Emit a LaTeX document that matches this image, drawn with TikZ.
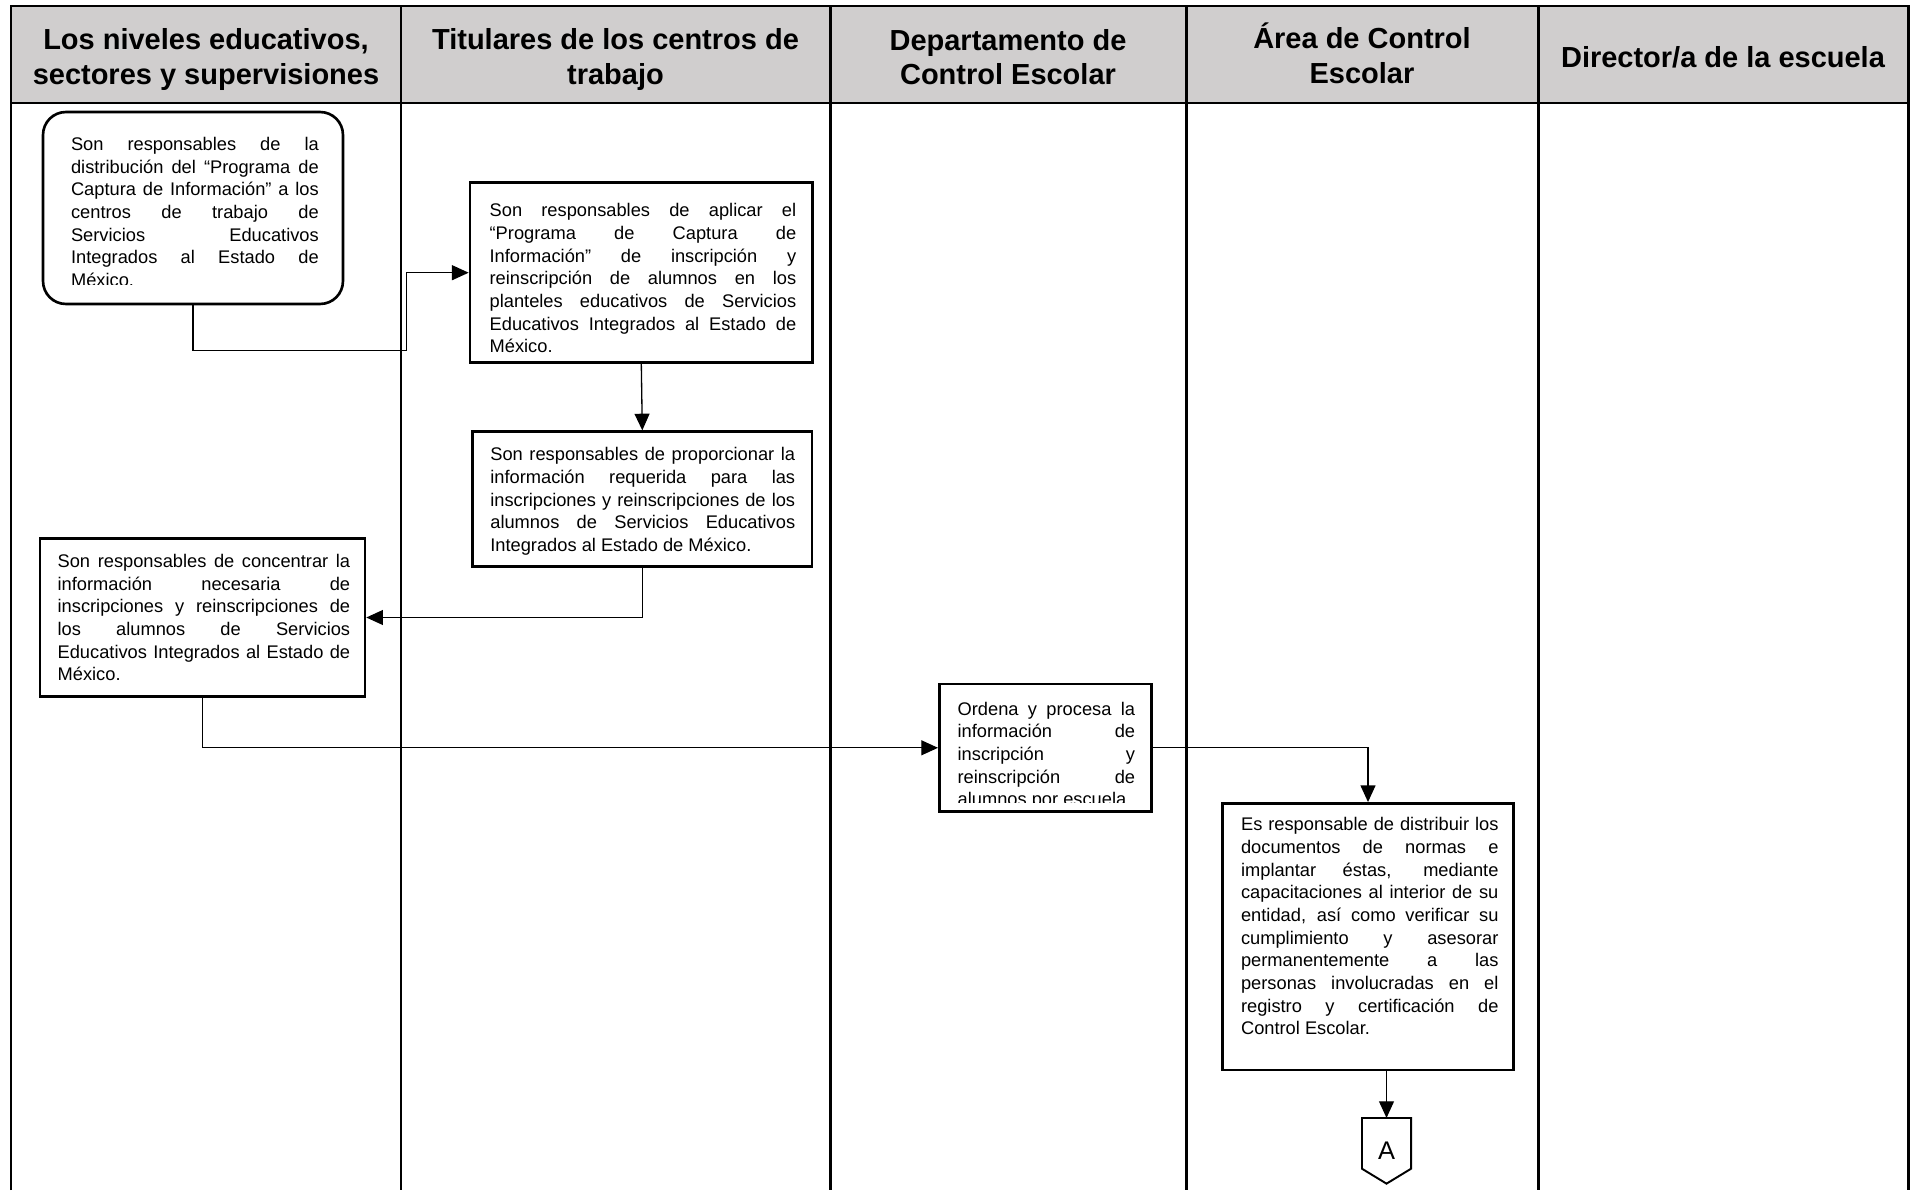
\documentclass[tikz,border=0pt]{standalone}
\usepackage{fontspec}
\setmainfont{Liberation Sans}
\usetikzlibrary{arrows.meta}
\definecolor{hdrgray}{RGB}{208,206,206}
\tolerance=10000
\hyphenpenalty=10000

\begin{document}
\begin{tikzpicture}[x=0.02cm, y=-0.02cm, >={Triangle[length=9.5pt,width=8.5pt]}]

\tikzset{
  lane/.style={line width=1.7pt},
  head/.style={align=center, font=\fontsize{16.5}{19.5}\selectfont\bfseries},
  box/.style={draw, line width=1.5pt, inner sep=0pt},
  txt/.style={anchor=north west, inner sep=0pt, text width=#1, align=justify,
    font=\fontsize{10.4}{12.9}\selectfont},
  arr/.style={->, line width=0.75pt},
  offpage/.style={line width=1.1pt, line join=miter}
}

\useasboundingbox (0,0) rectangle (1913,1190);

% --- Carriles y encabezados ---
\fill[hdrgray] (11,6) rectangle (1908,103);
\draw[lane] (11,1190) -- (11,6) -- (1908,6) -- (1908,1190);
\draw[lane] (11,103) -- (1908,103);
\foreach \x in {401,830,1186,1538}
  \draw[lane] (\x,6) -- (\x,1190);

\node[head] (h1) at (206,59.4)    {Los niveles educativos,\\sectores y supervisiones};
\node[head] (h2) at (615.5,59.4)  {Titulares de los centros de\\trabajo};
\node[head] (h3) at (1008,57)     {Departamento de\\Control Escolar};
\node[head] (h4) at (1362,53.3)   {Área de Control\\Escolar};
\node[head] (h5) at (1723,57)     {Director/a de la escuela};

% --- Cajas ---

% Niveles educativos: distribución del programa
\node[box, rounded corners=13pt, minimum width=6cm, minimum height=3.84cm] (n1) at (193,208) {};
\begin{scope}
  \clip (n1.north west) rectangle ([yshift=11.7pt]n1.south east);
  \node[txt=141pt] (t1) at (70.7,137) {Son responsables de la\linebreak
    distribución del “Programa de\linebreak
    Captura de Información” a los\linebreak
    centros de trabajo de\linebreak
    Servicios Educativos\linebreak
    Integrados al Estado de\linebreak
    México.};
\end{scope}

% Titulares: aplicar el programa
\node[box, minimum width=6.854cm, minimum height=3.6cm] (n2) at (641.3,272.7) {};
\node[txt=174.5pt] (t2) at (489.3,203.3) {Son responsables de aplicar el\linebreak
  “Programa de Captura de\linebreak
  Información” de inscripción y\linebreak
  reinscripción de alumnos en los\linebreak
  planteles educativos de Servicios\linebreak
  Educativos Integrados al Estado de\linebreak
  México.};

% Titulares: proporcionar la información
\node[box, minimum width=6.786cm, minimum height=2.7cm] (n3) at (642.3,499.2) {};
\node[txt=173.5pt] (t3) at (490,447.3) {Son responsables de proporcionar la\linebreak
  información requerida para las\linebreak
  inscripciones y reinscripciones de los\linebreak
  alumnos de Servicios Educativos\linebreak
  Integrados al Estado de México.};

% Niveles educativos: concentrar la información
\node[box, minimum width=6.5cm, minimum height=3.168cm] (n4) at (202.5,617.5) {};
\node[txt=166.5pt] (t4) at (57.3,554) {Son responsables de concentrar la\linebreak
  información necesaria de\linebreak
  inscripciones y reinscripciones de\linebreak
  los alumnos de Servicios\linebreak
  Educativos Integrados al Estado de\linebreak
  México.};

% Departamento: ordena y procesa
\node[box, minimum width=4.248cm, minimum height=2.554cm] (n5) at (1045.5,747.8) {};
\begin{scope}
  \clip (n5.north west) rectangle ([yshift=5.7pt]n5.south east);
  \node[txt=101pt] (t5) at (957.3,701.7) {Ordena y procesa la\linebreak
    información de\linebreak
    inscripción y\linebreak
    reinscripción de\linebreak
    alumnos por escuela.};
\end{scope}

% Área de Control Escolar: distribuir documentos
\node[box, minimum width=5.812cm, minimum height=5.334cm] (n6) at (1368,936.7) {};
\node[txt=146.5pt] (t6) at (1240.7,817.3) {Es responsable de distribuir los\linebreak
  documentos de normas e\linebreak
  implantar éstas, mediante\linebreak
  capacitaciones al interior de su\linebreak
  entidad, así como verificar su\linebreak
  cumplimiento y asesorar\linebreak
  permanentemente a las\linebreak
  personas involucradas en el\linebreak
  registro y certificación de\linebreak
  Control Escolar.};

% Conector fuera de página
\node[inner sep=0pt, minimum width=0.968cm, minimum height=1.3cm,
  font=\fontsize{14.5}{16}\selectfont] (nA) at (1386.5,1150.8) {A};
\draw[offpage] (nA.north west) -- (nA.north east) -- ([yshift=8.5pt]nA.south east)
  -- (nA.south) -- ([yshift=8.5pt]nA.south west) -- cycle;

% --- Flechas ---
\coordinate (k1) at (406.7,350.7);
\draw[arr] (n1.south) |- (k1) |- (n2.west);
\draw[arr] (n2.south) -- (n3.north);
\draw[arr] (n3.south) |- (n4.east);
\draw[arr] (n4.south) |- (n5.west);
\draw[arr] (n5.east) -| (n6.north);
\draw[arr] (nA |- n6.south) -- (nA.north);

\end{tikzpicture}
\end{document}
